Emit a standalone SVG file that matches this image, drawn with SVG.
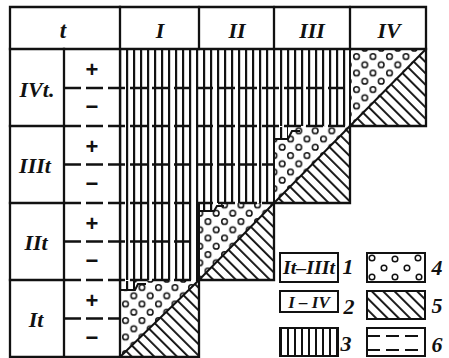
<svg xmlns="http://www.w3.org/2000/svg" width="449" height="358" viewBox="0 0 449 358">
<defs>
<style>
.frame{fill:none;stroke:#111;stroke-width:2.3;stroke-linecap:square}
.thin{fill:none;stroke:#111;stroke-width:2}
.dash{fill:none;stroke:#111;stroke-width:2.4;stroke-dasharray:17 5}
.dash6{fill:none;stroke:#111;stroke-width:2.2;stroke-dasharray:13 6}
.lbl{font-family:"Liberation Serif","DejaVu Serif",serif;font-weight:bold;font-style:italic;fill:#111;text-anchor:middle}
.sign{font-family:"Liberation Sans","DejaVu Sans",sans-serif;font-weight:bold;fill:#111;text-anchor:middle;font-size:22px}
.dot{fill:#fff;stroke:#111;stroke-width:1.5}
</style>
<pattern id="vlines" patternUnits="userSpaceOnUse" x="119" y="0" width="7" height="10">
<rect x="0" y="0" width="2.2" height="10" fill="#111"/>
</pattern>
<pattern id="vlinesL" patternUnits="userSpaceOnUse" x="280" y="0" width="7" height="10">
<rect x="0" y="0" width="2" height="10" fill="#111"/>
</pattern>
<pattern id="diag" patternUnits="userSpaceOnUse" width="8" height="8" patternTransform="rotate(-45)">
<rect x="0" y="0" width="1.9" height="8" fill="#111"/>
</pattern>
<pattern id="dots" patternUnits="userSpaceOnUse" x="352" y="52" width="16.5" height="16.5">
<circle cx="4.5" cy="4.5" r="2.8" class="dot"/>
<circle cx="12.75" cy="12.75" r="2.8" class="dot"/>
</pattern>
</defs>
<rect x="0" y="0" width="449" height="358" fill="#fff"/>

<g id="hatch-area">
<polygon points="120,49 350,49 350,126 274,126 274,203 199,203 199,280 120,280" fill="url(#vlines)"/>
</g>

<g id="cell-IVt-IV">
<polygon points="350,49 426,49 350,126" fill="url(#dots)"/>
<polygon points="426,49 426,126 350,126" fill="url(#diag)"/>
<line x1="350" y1="126" x2="426" y2="49" class="thin"/>
</g>
<g id="cell-IIIt-III">
<polygon points="274,126 350,126 274,203" fill="url(#dots)"/>
<polygon points="350,126 350,203 274,203" fill="url(#diag)"/>
<line x1="274" y1="203" x2="350" y2="126" class="thin"/>
<rect x="274" y="127" width="14" height="12" fill="#fff"/>
<rect x="274" y="127" width="14" height="12" fill="url(#vlines)"/>
<path d="M274,139 H288 L292,131 H300" class="thin"/>
</g>
<g id="cell-IIt-II">
<polygon points="199,203 274,203 199,280" fill="url(#dots)"/>
<polygon points="274,203 274,280 199,280" fill="url(#diag)"/>
<line x1="199" y1="280" x2="274" y2="203" class="thin"/>
<rect x="199" y="204" width="15" height="7" fill="#fff"/>
<rect x="199" y="204" width="15" height="7" fill="url(#vlines)"/>
<path d="M199,211 H214 L217,206 H224" class="thin"/>
</g>
<g id="cell-It-I">
<polygon points="120,280 199,280 120,357" fill="url(#dots)"/>
<polygon points="199,280 199,357 120,357" fill="url(#diag)"/>
<line x1="120" y1="357" x2="199" y2="280" class="thin"/>
<rect x="120" y="281" width="15" height="9" fill="#fff"/>
<rect x="120" y="281" width="15" height="9" fill="url(#vlines)"/>
<path d="M120,290 H135 L138,284 H146" class="thin"/>
</g>

<g id="connectors">
<line x1="64" y1="88" x2="350" y2="88" class="dash"/>
<line x1="64" y1="126" x2="350" y2="126" class="dash"/>
<line x1="64" y1="164.5" x2="274" y2="164.5" class="dash"/>
<line x1="64" y1="203" x2="274" y2="203" class="dash"/>
<line x1="64" y1="241.5" x2="199" y2="241.5" class="dash"/>
<line x1="64" y1="280" x2="199" y2="280" class="dash"/>
<line x1="64" y1="318.5" x2="120" y2="318.5" class="dash"/>
<line x1="10" y1="126" x2="64" y2="126" class="frame"/>
<line x1="10" y1="203" x2="64" y2="203" class="frame"/>
<line x1="10" y1="280" x2="64" y2="280" class="frame"/>
<line x1="10" y1="49" x2="426" y2="49" class="frame"/>
<line x1="120" y1="7" x2="120" y2="357" class="frame"/>
<line x1="199" y1="7" x2="199" y2="49" class="frame"/>
<line x1="274" y1="7" x2="274" y2="49" class="frame"/>
<line x1="350" y1="7" x2="350" y2="49" class="frame"/>
<line x1="64" y1="49" x2="64" y2="357" class="frame"/>
<path d="M10,7 H426 V126 H350 V203 H274 V280 H199 V357 H10 Z" class="frame"/>
<line x1="350" y1="49" x2="350" y2="126" class="thin"/>
<line x1="274" y1="126" x2="274" y2="203" class="thin"/>
<line x1="199" y1="203" x2="199" y2="280" class="thin"/>
</g>

<g id="header-labels">
<text x="63" y="38" class="lbl" font-size="23">t</text>
<text x="160" y="38" class="lbl" font-size="22">I</text>
<text x="237" y="38" class="lbl" font-size="22">II</text>
<text x="312" y="38" class="lbl" font-size="22">III</text>
<text x="389" y="38" class="lbl" font-size="22">IV</text>
</g>

<g id="row-labels">
<text x="37" y="97" class="lbl" font-size="22">IVt.</text>
<text x="35" y="173" class="lbl" font-size="22">IIIt</text>
<text x="36" y="250" class="lbl" font-size="22">IIt</text>
<text x="36" y="327" class="lbl" font-size="22">It</text>
<text x="92" y="77" class="sign">+</text>
<text x="92" y="114" class="sign">−</text>
<text x="92" y="154" class="sign">+</text>
<text x="92" y="191" class="sign">−</text>
<text x="92" y="231" class="sign">+</text>
<text x="92" y="268" class="sign">−</text>
<text x="92" y="308" class="sign">+</text>
<text x="92" y="345" class="sign">−</text>
</g>

<g id="legend-1">
<rect x="280" y="253" width="58" height="29" class="thin"/>
<text x="309" y="274" class="lbl" font-size="18" textLength="52" lengthAdjust="spacingAndGlyphs">It–IIIt</text>
<text x="348" y="274" class="lbl" font-size="22">1</text>
</g>
<g id="legend-2">
<rect x="280" y="291" width="58" height="21" class="thin"/>
<text x="309" y="308" class="lbl" font-size="17">I – IV</text>
<text x="349" y="314" class="lbl" font-size="22">2</text>
</g>
<g id="legend-3">
<rect x="280" y="328" width="58" height="28" fill="url(#vlinesL)"/>
<rect x="280" y="328" width="58" height="28" class="thin"/>
<text x="346" y="351" class="lbl" font-size="22">3</text>
</g>
<g id="legend-4">
<rect x="367" y="253" width="58" height="29" class="thin"/>
<circle cx="372" cy="258" r="2.8" class="dot"/>
<circle cx="395" cy="259" r="2.8" class="dot"/>
<circle cx="418" cy="258" r="2.8" class="dot"/>
<circle cx="384" cy="268" r="2.8" class="dot"/>
<circle cx="407" cy="268" r="2.8" class="dot"/>
<circle cx="372" cy="277" r="2.8" class="dot"/>
<circle cx="395" cy="277" r="2.8" class="dot"/>
<circle cx="419" cy="277" r="2.8" class="dot"/>
<text x="437" y="275" class="lbl" font-size="22">4</text>
</g>
<g id="legend-5">
<rect x="367" y="291" width="58" height="28" fill="url(#diag)"/>
<rect x="367" y="291" width="58" height="28" class="thin"/>
<text x="437" y="313" class="lbl" font-size="22">5</text>
</g>
<g id="legend-6">
<rect x="367" y="328" width="58" height="28" class="thin"/>
<line x1="367" y1="336" x2="425" y2="336" class="dash6"/>
<line x1="367" y1="350" x2="425" y2="350" class="dash6"/>
<text x="437" y="352" class="lbl" font-size="22">6</text>
</g>
</svg>
